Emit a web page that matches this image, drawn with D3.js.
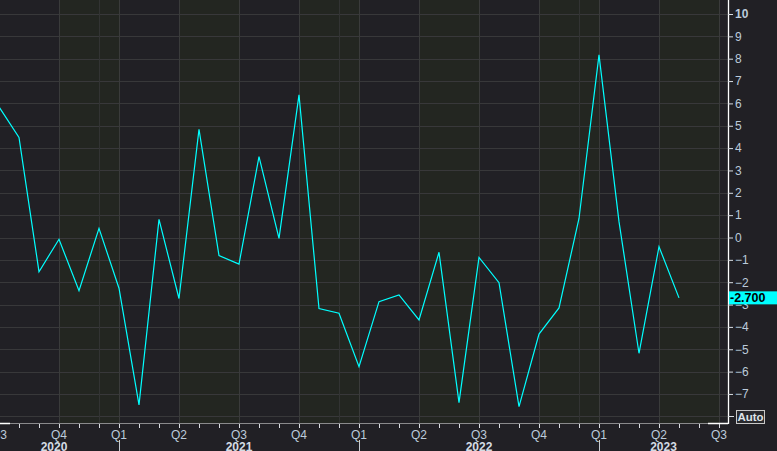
<!DOCTYPE html>
<html><head><meta charset="utf-8">
<script src="https://cdn.jsdelivr.net/npm/d3@7"></script>
<style>
html,body{margin:0;padding:0;background:#212025;}
svg{display:block;}
</style></head>
<body>
<script>
// ---- data (monthly observations, one per month, Jun 2020 .. Apr 2023) ----
const months = ["2020-06","2020-07","2020-08","2020-09","2020-10","2020-11","2020-12",
  "2021-01","2021-02","2021-03","2021-04","2021-05","2021-06","2021-07","2021-08","2021-09","2021-10","2021-11","2021-12",
  "2022-01","2022-02","2022-03","2022-04","2022-05","2022-06","2022-07","2022-08","2022-09","2022-10","2022-11","2022-12",
  "2023-01","2023-02","2023-03","2023-04"];
const values = [5.85, 4.48, -1.53, -0.08, -2.38, 0.41, -2.27, -7.49, 0.81, -2.73, 4.84, -0.81, -1.19, 3.62, -0.04, 6.38,
  -3.18, -3.39, -5.78, -2.87, -2.57, -3.69, -0.66, -7.39, -0.89, -2.02, -7.57, -4.32, -3.15, 0.85, 8.17, 0.71, -5.18, -0.41, -2.70];
const lastValueLabel = "-2.700";
const yTicks = [11,10,9,8,7,6,5,4,3,2,1,0,-1,-2,-3,-4,-5,-6,-7];
const quarterLabels = ["Q3","Q4","Q1","Q2","Q3","Q4","Q1","Q2","Q3","Q4","Q1","Q2","Q3"]; // quarter starts from Jul 2020
const years = ["2020","2021","2022","2023"];

// ---- layout ----
const W = 777, H = 451, axisX = 728, axisY = 423;
// month index: 0 = Jul 2020 month start (end of Jun 2020)
const monthIndex = s => { const [y,m] = s.split("-").map(Number); return (y-2020)*12 + m - 6; };
const x = d3.scaleLinear().domain([0, 1]).range([-1, 19]);
const y = d3.scaleLinear().domain([0, 10]).range([237.5, 14]);

const svg = d3.select("body").append("svg").attr("width", W).attr("height", H);
svg.append("rect").attr("width", W).attr("height", H).attr("fill", "#212025");

const plot = svg.append("g");
plot.append("defs").append("clipPath").attr("id","clip")
  .append("rect").attr("x",0).attr("y",0).attr("width",axisX).attr("height",axisY);
const inner = plot.append("g").attr("clip-path","url(#clip)");

// alternating quarter shading (Q4 and Q2)
const quarterStarts = d3.range(quarterLabels.length).map(i => i*3);
inner.selectAll(".band").data(quarterStarts.filter((q,i) => i % 2 === 1))
  .join("rect").attr("x", d => x(d)).attr("width", d => x(d+3) - x(d))
  .attr("y", 0).attr("height", axisY).attr("fill", "#232621");

// horizontal grid
inner.selectAll(".hg").data(d3.range(-8, 12))
  .join("line").attr("x1", 0).attr("x2", axisX)
  .attr("y1", d => Math.round(y(d)) + 0.5).attr("y2", d => Math.round(y(d)) + 0.5)
  .attr("stroke", "#38383a").attr("stroke-width", 1);

// vertical grid at quarter starts and at December starts
const vLines = quarterStarts.concat([5, 17, 29]);
inner.selectAll(".vg").data(vLines)
  .join("line").attr("y1", 0).attr("y2", axisY)
  .attr("x1", d => Math.round(x(d)) + 0.5).attr("x2", d => Math.round(x(d)) + 0.5)
  .attr("stroke", d => d % 3 === 0 ? "#3a3b3b" : "#323333").attr("stroke-width", 1);

// data line
const pts = months.map((m, i) => [monthIndex(m), values[i]]);
inner.append("path").datum(pts)
  .attr("d", d3.line().x(d => x(d[0])).y(d => y(d[1])))
  .attr("fill", "none").attr("stroke", "#00ffff").attr("stroke-width", 1.2);

// ---- axes frame ----
svg.append("line").attr("x1", 0).attr("x2", axisX).attr("y1", axisY + 0.5).attr("y2", axisY + 0.5)
  .attr("stroke", "#8a8a8c");
svg.append("line").attr("x1", 0).attr("x2", 10).attr("y1", axisY + 0.5).attr("y2", axisY + 0.5)
  .attr("stroke", "#ffffff").attr("stroke-width", 1.5);
svg.append("line").attr("x1", 708).attr("x2", axisX).attr("y1", axisY + 0.5).attr("y2", axisY + 0.5)
  .attr("stroke", "#ffffff").attr("stroke-width", 1.5);
svg.append("line").attr("x1", axisX + 0.5).attr("x2", axisX + 0.5).attr("y1", 0).attr("y2", axisY + 1)
  .attr("stroke", "#ffffff").attr("stroke-width", 1.3);

// right y axis via d3.axisRight
const yAxis = d3.axisRight(y).tickValues(yTicks).tickSize(5).tickPadding(2)
  .tickFormat(d => d3.format("d")(d));
const ya = svg.append("g").attr("transform", `translate(${axisX},0)`).call(yAxis);
ya.select(".domain").remove();
ya.selectAll(".tick line").attr("stroke", "#d8dde3");
ya.selectAll(".tick text").attr("fill", "#bccbdb")
  .attr("font-family", "'Liberation Sans', Arial, sans-serif").attr("font-size", 12)
  .attr("font-weight", d => d === 10 ? "bold" : "normal");
// -8 tick carrying the Auto box
svg.append("line").attr("x1", axisX).attr("x2", axisX + 6)
  .attr("y1", Math.round(y(-8)) + 0.5).attr("y2", Math.round(y(-8)) + 0.5).attr("stroke", "#d8dde3");
svg.append("rect").attr("x", 736.5).attr("y", 410.5).attr("width", 28).attr("height", 13)
  .attr("fill", "#2a2a2e").attr("stroke", "#c8c8c8");
svg.append("text").attr("x", 750.5).attr("y", 421).attr("text-anchor", "middle")
  .attr("font-family", "'Liberation Sans', Arial, sans-serif").attr("font-size", 11.5).attr("font-weight", "bold")
  .attr("fill", "#dfe3e8").text("Auto");

// last value marker
const lastY = y(values[values.length - 1]);
svg.append("rect").attr("x", axisX + 1).attr("y", lastY - 6.5).attr("width", W - axisX).attr("height", 13)
  .attr("fill", "#00ffff");
svg.append("text").attr("x", axisX + 2).attr("y", lastY + 4.5)
  .attr("font-family", "'Liberation Sans', Arial, sans-serif").attr("font-size", 12.5).attr("font-weight", "bold")
  .attr("fill", "#000").text(lastValueLabel);

// x axis: month ticks
const monthTicks = d3.range(0, 37);
svg.selectAll(".mt").data(monthTicks).join("line")
  .attr("x1", d => Math.round(x(d)) + 0.5).attr("x2", d => Math.round(x(d)) + 0.5)
  .attr("y1", axisY + 1).attr("y2", axisY + 5).attr("stroke", "#dadde2");
// quarter labels
svg.selectAll(".ql").data(quarterStarts).join("text")
  .attr("x", d => x(d)).attr("y", 439).attr("text-anchor", "middle")
  .attr("font-family", "'Liberation Sans', Arial, sans-serif").attr("font-size", 12)
  .attr("fill", "#bccbdb").text((d, i) => quarterLabels[i]);
// year separators and labels
const yearStarts = [-0.5, 6, 18, 30];
svg.selectAll(".ys").data(yearStarts.slice(1)).join("line")
  .attr("x1", d => Math.round(x(d)) + 0.5).attr("x2", d => Math.round(x(d)) + 0.5)
  .attr("y1", 440).attr("y2", H).attr("stroke", "#c8ccd2");
svg.selectAll(".yl").data(years).join("text")
  .attr("x", (d, i) => {
    const a = Math.max(x(yearStarts[i]), -11);
    const b = i + 1 < yearStarts.length ? x(yearStarts[i + 1]) : axisX;
    return (a + Math.min(b, axisX)) / 2;
  })
  .attr("y", 451).attr("text-anchor", "middle")
  .attr("font-family", "'Liberation Sans', Arial, sans-serif").attr("font-size", 12).attr("font-weight", "bold")
  .attr("fill", "#d4dbe3").text(d => d);
</script>
</body></html>
